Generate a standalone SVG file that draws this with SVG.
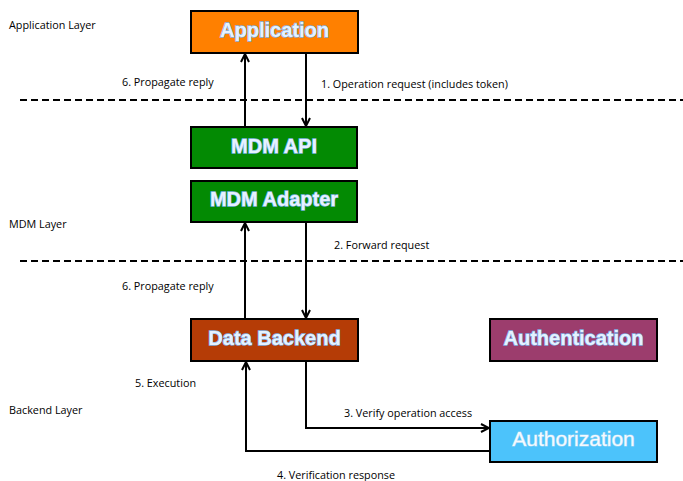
<svg xmlns="http://www.w3.org/2000/svg" width="683" height="481" viewBox="0 0 683 481">
<defs>
<marker id="arr" viewBox="0 0 10 10" refX="9" refY="5" markerWidth="10" markerHeight="10" markerUnits="userSpaceOnUse" orient="auto">
<path d="M1,1 L9,5 L1,9" fill="none" stroke="#000" stroke-width="2"/>
</marker>
<style>
.box{stroke:#000;stroke-width:2}
.title{font-family:"Liberation Sans",Arial,sans-serif;font-weight:bold;font-size:20px;fill:#e6f2ff;stroke:#7fb2e6;stroke-width:1.3;paint-order:stroke;text-anchor:middle}
.lbl{font-family:"Open Sans","Liberation Sans",sans-serif;font-size:10.8px;fill:#000}
.dash{stroke:#000;stroke-width:2;stroke-dasharray:7 4;fill:none}
.conn{stroke:#000;stroke-width:2;fill:none}
</style>
</defs>
<rect width="683" height="481" fill="#fff"/>
<g id="layers">
<line class="dash" x1="20" y1="100" x2="683" y2="100"/>
<line class="dash" x1="20" y1="261" x2="683" y2="261"/>
<text class="lbl" x="9" y="29">Application Layer</text>
<text class="lbl" x="9" y="228">MDM Layer</text>
<text class="lbl" x="9" y="414">Backend Layer</text>
</g>
<g id="connectors">
<line class="conn" x1="245" y1="127" x2="245" y2="54" marker-end="url(#arr)"/>
<line class="conn" x1="306" y1="53" x2="306" y2="126" marker-end="url(#arr)"/>
<line class="conn" x1="245" y1="319" x2="245" y2="223" marker-end="url(#arr)"/>
<line class="conn" x1="306" y1="222" x2="306" y2="318" marker-end="url(#arr)"/>
<polyline class="conn" points="306,361 306,428 489,428" marker-end="url(#arr)"/>
<polyline class="conn" points="490,451 246,451 246,362" marker-end="url(#arr)"/>
<text class="lbl" x="122" y="86">6. Propagate reply</text>
<text class="lbl" x="321" y="88">1. Operation request (includes token)</text>
<text class="lbl" x="334" y="249">2. Forward request</text>
<text class="lbl" x="122" y="290">6. Propagate reply</text>
<text class="lbl" x="135" y="387">5. Execution</text>
<text class="lbl" x="344" y="417">3. Verify operation access</text>
<text class="lbl" x="277" y="479">4. Verification response</text>
</g>
<g id="application">
<rect class="box" x="191" y="11" width="167" height="42" fill="#ff8000"/>
<text class="title" x="274.5" y="37" font-size="21">Application</text>
</g>
<g id="mdm-api">
<rect class="box" x="191" y="127" width="166" height="41" fill="#038a03"/>
<text class="title" x="274" y="153">MDM API</text>
</g>
<g id="mdm-adapter">
<rect class="box" x="191" y="181" width="166" height="41" fill="#038a03"/>
<text class="title" x="274" y="206">MDM Adapter</text>
</g>
<g id="data-backend">
<rect class="box" x="191" y="319" width="167" height="42" fill="#b53c06"/>
<text class="title" x="274.5" y="345">Data Backend</text>
</g>
<g id="authentication">
<rect class="box" x="490" y="319" width="167" height="42" fill="#9c3d6d"/>
<text class="title" x="573.5" y="345">Authentication</text>
</g>
<g id="authorization">
<rect class="box" x="490" y="421" width="167" height="41" fill="#4cc3fb"/>
<text class="title" x="573.5" y="446" style="font-weight:normal;font-size:21px;fill:#f4faff;stroke:#9fd6f5;stroke-width:1.1">Authorization</text>
</g>
</svg>
